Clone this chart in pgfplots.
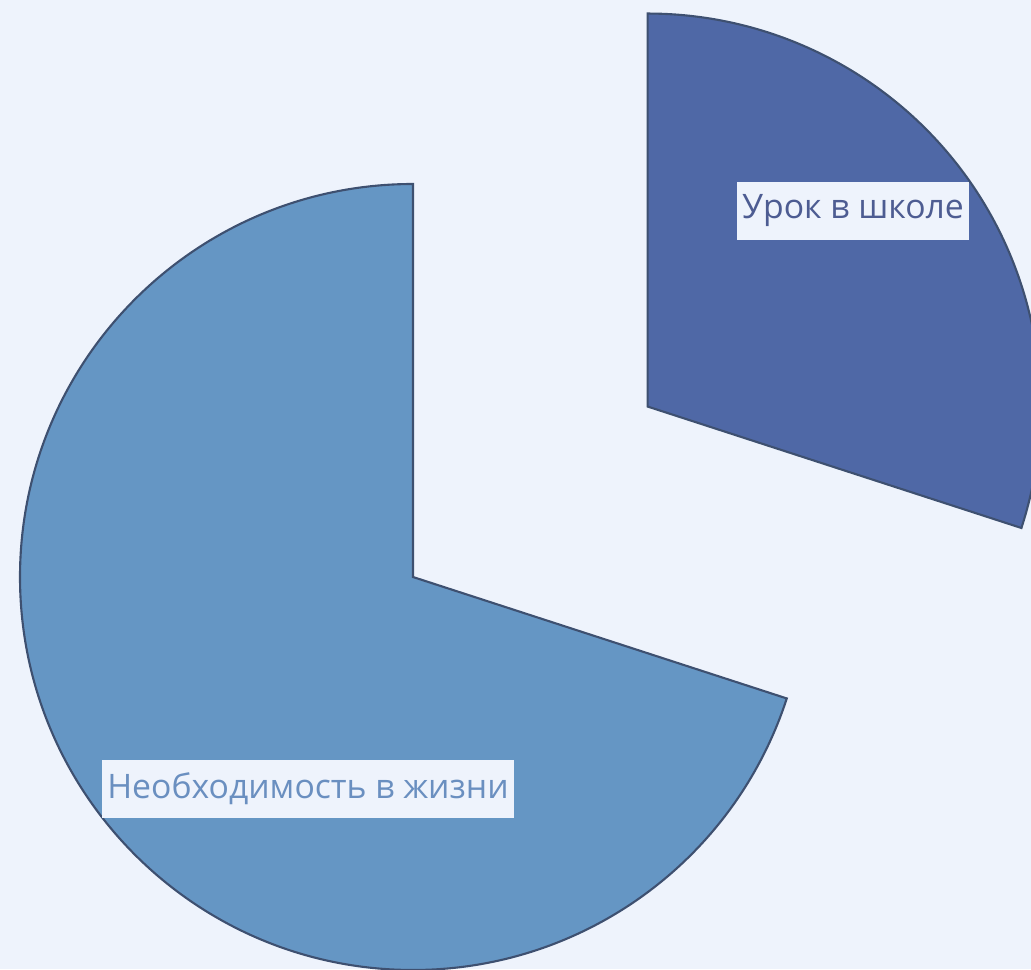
\documentclass[border=0pt]{standalone}
\usepackage{pgfplots}
\pgfplotsset{compat=1.18}
\usepackage{pgfplotstable}
\usetikzlibrary{calc}
\usepackage{fontspec}
\setmainfont{Open Sans}
\definecolor{bg}{HTML}{EEF3FC}
\definecolor{sliceA}{HTML}{4F68A6}
\definecolor{sliceB}{HTML}{6596C4}
\definecolor{edge}{HTML}{3E5070}
\definecolor{txtA}{HTML}{4D5C92}
\definecolor{txtB}{HTML}{6A8FC0}
\pgfplotstableread{
label value
A 30
B 70
}\piedata
\begin{document}
\begin{tikzpicture}
\pgfplotstablegetelem{0}{value}\of\piedata \let\va\pgfplotsretval
\pgfplotstablegetelem{1}{value}\of\piedata \let\vb\pgfplotsretval
\pgfmathsetmacro{\total}{\va+\vb}
\pgfmathsetmacro{\angA}{360*\va/\total}
\pgfmathsetmacro{\startA}{90-\angA}
\pgfmathsetmacro{\midA}{90-\angA/2}
\begin{axis}[
  x=1cm, y=1cm,
  xmin=0, xmax=10.31, ymin=0, ymax=9.69,
  hide axis, clip=true,
  scale only axis,
]
\fill[bg] (axis cs:0,0) rectangle (axis cs:10.31,9.69);
\coordinate (ll) at (axis cs:0,0);
\coordinate (ur) at (axis cs:10.31,9.69);
% exploded slice
\filldraw[fill=sliceA, draw=edge, line width=0.6pt]
  ($(axis cs:4.13,3.92)+(\midA:2.90)$) -- ++(\startA:3.93) arc[start angle=\startA, end angle=90, radius=3.93cm] -- cycle;
% main slice
\filldraw[fill=sliceB, draw=edge, line width=0.6pt]
  (axis cs:4.13,3.92) -- ++(90:3.93) arc[start angle=90, end angle=360+\startA, radius=3.93cm] -- cycle;
\node[fill=bg, inner xsep=1.5pt, inner ysep=3.6pt, text=txtA, font=\fontsize{9.6}{11}\selectfont] at (axis cs:8.53,7.58) {Урок в школе};
\node[fill=bg, inner xsep=1.5pt, inner ysep=3.6pt, text=txtB, font=\fontsize{9.6}{11}\selectfont] at (axis cs:3.08,1.80) {Необходимость в жизни};
\end{axis}
\pgfresetboundingbox
\useasboundingbox (ll) rectangle (ur);
\end{tikzpicture}
\end{document}
